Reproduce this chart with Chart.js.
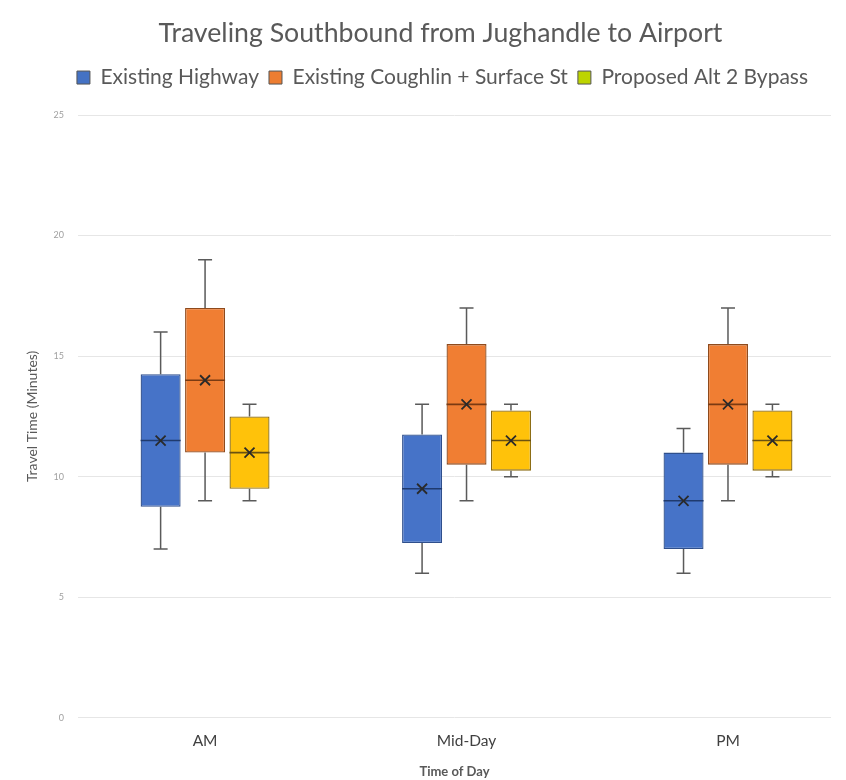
<!DOCTYPE html>
<html>
<head>
<meta charset="utf-8">
<title>Travel time box plot</title>
<script src="https://cdn.jsdelivr.net/npm/chart.js@4.4.1/dist/chart.umd.min.js"></script>
<style>
  html, body { margin: 0; padding: 0; background: #ffffff; }
</style>
</head>
<body>
<canvas id="travelChart" width="846" height="780"></canvas>
<script>
const periods = ['AM', 'Mid-Day', 'PM'];
const routeNames = ['Existing Highway', 'Existing Coughlin + Surface St', 'Proposed Alt 2 Bypass'];

// [min, q1, median, q3, max] for each period
const highwayStats  = [[7, 8.75, 11.5, 14.25, 16], [6, 7.25, 9.5, 11.75, 13], [6, 7, 9, 11, 12]];
const coughlinStats = [[9, 11, 14, 17, 19], [9, 10.5, 13, 15.5, 17], [9, 10.5, 13, 15.5, 17]];
const bypassStats   = [[9, 9.5, 11, 12.5, 13], [10, 10.25, 11.5, 12.75, 13], [10, 10.25, 11.5, 12.75, 13]];

const highwayMeans  = [11.5, 9.5, 9];
const coughlinMeans = [14, 13, 13];
const bypassMeans   = [11, 11.5, 11.5];

const yTicks = [0, 5, 10, 15, 20, 25];

const FONT = 'Lato, "Open Sans", sans-serif';

function boxData(stats) {
  return stats.map((s, i) => ({ x: i, y: [s[1], s[3]] }));
}

// whiskers, median line and mean cross drawn on top of the floating bars
const boxWhiskers = {
  id: 'boxWhiskers',
  afterDatasetsDraw(chart) {
    const ctx = chart.ctx;
    const y = chart.scales.y;
    chart.data.datasets.forEach((ds, di) => {
      const meta = chart.getDatasetMeta(di);
      if (meta.hidden) return;
      meta.data.forEach((bar, i) => {
        const [mn, q1, md, q3, mx] = ds.stats[i];
        const cx = bar.x;
        const half = bar.width / 2;
        ctx.save();
        ctx.lineWidth = 1.5;
        ctx.strokeStyle = '#5a5a5a';
        ctx.beginPath();
        ctx.moveTo(cx, y.getPixelForValue(q3));
        ctx.lineTo(cx, y.getPixelForValue(mx));
        ctx.moveTo(cx - 7, y.getPixelForValue(mx));
        ctx.lineTo(cx + 7, y.getPixelForValue(mx));
        ctx.moveTo(cx, y.getPixelForValue(q1));
        ctx.lineTo(cx, y.getPixelForValue(mn));
        ctx.moveTo(cx - 7, y.getPixelForValue(mn));
        ctx.lineTo(cx + 7, y.getPixelForValue(mn));
        ctx.stroke();

        ctx.strokeStyle = ds.medianColor;
        ctx.lineWidth = 1.6;
        ctx.beginPath();
        ctx.moveTo(cx - half, y.getPixelForValue(md));
        ctx.lineTo(cx + half, y.getPixelForValue(md));
        ctx.stroke();

        const my = y.getPixelForValue(ds.means[i]);
        ctx.strokeStyle = '#2a2a2a';
        ctx.lineWidth = 1.8;
        ctx.beginPath();
        ctx.moveTo(cx - 5, my - 5);
        ctx.lineTo(cx + 5, my + 5);
        ctx.moveTo(cx + 5, my - 5);
        ctx.lineTo(cx - 5, my + 5);
        ctx.stroke();
        ctx.restore();
      });
    });
  }
};

// extra room under the legend row, and title/legend nudged right of the canvas centre
const headerLayout = {
  id: 'headerLayout',
  beforeInit(chart) {
    const fit = chart.legend.fit;
    chart.legend.fit = function () {
      fit.call(this);
      this.height += 17;
    };
  },
  afterLayout(chart) {
    chart.titleBlock.left += 25;
    chart.titleBlock.right += 25;
    chart.legend.left += 27;
    chart.legend.right += 27;
  }
};

const ctx = document.getElementById('travelChart').getContext('2d');

new Chart(ctx, {
  type: 'bar',
  data: {
    datasets: [
      {
        label: routeNames[0],
        data: boxData(highwayStats),
        stats: highwayStats,
        means: highwayMeans,
        backgroundColor: '#4673c8',
        borderColor: '#2f4f8c',
        medianColor: '#1f3a6e',
        legendColor: '#4472c4'
      },
      {
        label: routeNames[1],
        data: boxData(coughlinStats),
        stats: coughlinStats,
        means: coughlinMeans,
        backgroundColor: '#f07e33',
        borderColor: '#8e4a1c',
        medianColor: '#7a3a12',
        legendColor: '#ed7d31'
      },
      {
        label: routeNames[2],
        data: boxData(bypassStats),
        stats: bypassStats,
        means: bypassMeans,
        backgroundColor: '#ffc20a',
        borderColor: '#8a6a10',
        medianColor: '#6b5210',
        legendColor: '#bdd400'
      }
    ]
  },
  options: {
    responsive: false,
    animation: false,
    devicePixelRatio: 1,
    categoryPercentage: 0.51,
    barPercentage: 0.9,
    borderWidth: 1.3,
    borderSkipped: false,
    layout: { padding: { left: 0, right: 15, top: 0, bottom: 0 } },
    plugins: {
      title: {
        display: true,
        text: 'Traveling Southbound from Jughandle to Airport',
        color: '#595959',
        font: { family: FONT, size: 26.7, weight: 'normal' },
        padding: { top: 17, bottom: 8 }
      },
      legend: {
        position: 'top',
        labels: {
          color: '#595959',
          font: { family: FONT, size: 21 },
          boxWidth: 13,
          boxHeight: 13,
          padding: 10,
          generateLabels: chart => chart.data.datasets.map((ds, i) => ({
            text: ds.label,
            fillStyle: ds.legendColor,
            strokeStyle: '#555555',
            lineWidth: 1,
            hidden: !chart.isDatasetVisible(i),
            datasetIndex: i,
            fontColor: '#595959'
          }))
        }
      },
      tooltip: { enabled: false }
    },
    scales: {
      x: {
        type: 'linear',
        offset: false,
        min: -0.486,
        max: 2.394,
        grid: { display: false },
        border: { display: false },
        afterBuildTicks: scale => {
          scale.ticks = periods.map((_, i) => ({ value: i }));
        },
        ticks: {
          color: '#404040',
          font: { family: FONT, size: 15.5 },
          padding: 6,
          callback: v => periods[v]
        },
        title: {
          display: true,
          text: 'Time of Day',
          color: '#595959',
          font: { family: FONT, size: 13, weight: 'bold' },
          padding: { top: 8, bottom: 0 }
        }
      },
      y: {
        min: 0,
        max: 25,
        afterBuildTicks: scale => {
          scale.ticks = yTicks.map(v => ({ value: v }));
        },
        afterFit: scale => { scale.width = 78; },
        grid: { color: '#e6e6e6', lineWidth: 1, drawTicks: false },
        border: { display: false },
        ticks: {
          color: '#a0a0a0',
          font: { family: FONT, size: 9 },
          padding: 14
        },
        title: {
          display: true,
          text: 'Travel Time (Minutes)',
          color: '#595959',
          font: { family: FONT, size: 14 },
          padding: { top: 24, bottom: 4 }
        }
      }
    }
  },
  plugins: [boxWhiskers, headerLayout]
});
</script>
</body>
</html>
